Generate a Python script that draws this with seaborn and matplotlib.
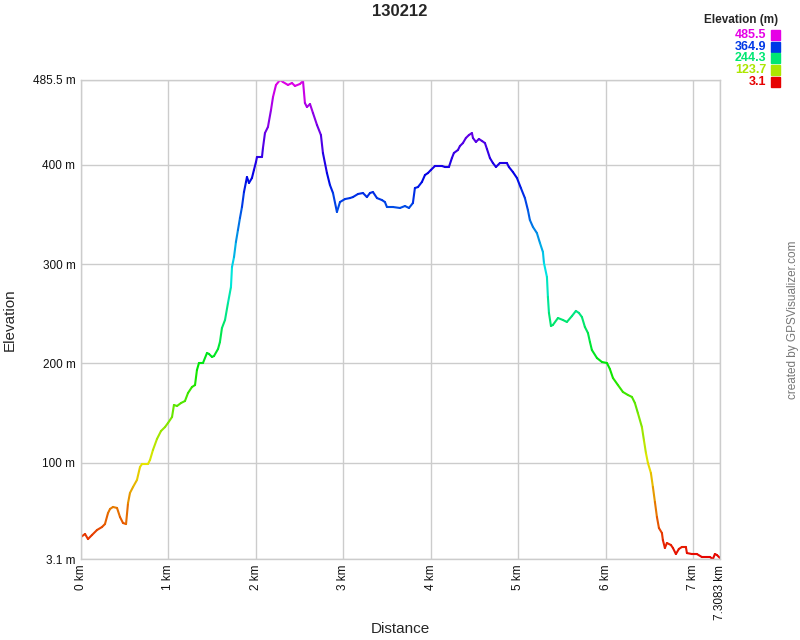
import colorsys
import matplotlib
matplotlib.use("Agg")
import matplotlib.pyplot as plt
import seaborn as sns
import pandas as pd

TITLE = "130212"
TOTAL_KM = 7.3083
ELE_MIN = 3.1
ELE_MAX = 485.5

dist_km = [
    0.000, 0.046, 0.080, 0.126, 0.183, 0.240, 0.274, 0.309, 0.332, 0.366,
    0.412, 0.446, 0.480, 0.515, 0.538, 0.560, 0.595, 0.640, 0.675, 0.698,
    0.766, 0.789, 0.823, 0.869, 0.915, 0.961, 0.995, 1.041, 1.063, 1.098,
    1.144, 1.189, 1.224, 1.269, 1.304, 1.326, 1.349, 1.395, 1.441, 1.464,
    1.498, 1.521, 1.567, 1.589, 1.612, 1.647, 1.681, 1.715, 1.727, 1.750,
    1.772, 1.795, 1.818, 1.841, 1.864, 1.887, 1.898, 1.921, 1.955, 1.978,
    2.001, 2.013, 2.070, 2.081, 2.104, 2.138, 2.173, 2.196, 2.230, 2.276,
    2.310, 2.367, 2.413, 2.447, 2.504, 2.539, 2.561, 2.584, 2.619, 2.653,
    2.699, 2.744, 2.767, 2.813, 2.847, 2.882, 2.927, 2.962, 3.019, 3.076,
    3.110, 3.168, 3.225, 3.270, 3.305, 3.339, 3.385, 3.442, 3.476, 3.499,
    3.568, 3.648, 3.705, 3.751, 3.796, 3.819, 3.854, 3.899, 3.934, 3.968,
    4.002, 4.048, 4.128, 4.162, 4.208, 4.242, 4.265, 4.311, 4.334, 4.368,
    4.402, 4.437, 4.471, 4.483, 4.517, 4.551, 4.586, 4.620, 4.643, 4.677,
    4.711, 4.746, 4.791, 4.871, 4.894, 4.940, 4.986, 5.031, 5.077, 5.111,
    5.134, 5.169, 5.214, 5.249, 5.283, 5.295, 5.329, 5.340, 5.352, 5.375,
    5.397, 5.455, 5.512, 5.557, 5.615, 5.660, 5.695, 5.729, 5.763, 5.798,
    5.821, 5.843, 5.901, 5.958, 6.015, 6.049, 6.084, 6.141, 6.198, 6.255,
    6.301, 6.335, 6.369, 6.415, 6.438, 6.461, 6.484, 6.518, 6.541, 6.564,
    6.587, 6.610, 6.644, 6.655, 6.678, 6.701, 6.747, 6.770, 6.804, 6.838,
    6.872, 6.918, 6.930, 6.987, 7.044, 7.101, 7.158, 7.193, 7.227, 7.250,
    7.273, 7.3083,
]

elev_m = [
    25.3, 28.3, 23.2, 27.3, 32.3, 35.3, 38.3, 49.4, 53.5, 55.5,
    54.5, 45.4, 39.4, 38.3, 59.5, 69.6, 75.6, 82.7, 95.8, 98.8,
    98.8, 102.8, 112.9, 124.0, 132.0, 136.0, 140.1, 146.1, 158.2, 157.2,
    160.2, 162.2, 170.3, 176.3, 178.3, 193.4, 200.5, 200.5, 210.6, 209.6,
    206.6, 207.5, 214.6, 221.6, 235.7, 243.8, 260.9, 277.0, 297.2, 307.2,
    322.4, 334.4, 346.5, 357.6, 372.7, 382.8, 387.8, 381.8, 386.8, 394.9,
    402.9, 408.0, 408.0, 417.0, 432.1, 438.2, 455.3, 468.4, 480.5, 485.5,
    483.5, 480.5, 482.5, 479.5, 481.5, 484.5, 462.3, 458.3, 461.3, 452.3,
    440.2, 430.1, 412.0, 391.8, 379.8, 371.7, 352.6, 362.6, 365.6, 366.6,
    367.6, 370.7, 371.7, 367.6, 371.7, 372.7, 366.6, 364.6, 362.6, 357.6,
    357.6, 356.6, 358.6, 356.6, 361.6, 376.7, 377.7, 382.8, 389.8, 391.8,
    394.9, 398.9, 398.9, 397.9, 397.9, 406.9, 412.0, 415.0, 419.0, 422.0,
    427.1, 430.1, 432.1, 427.1, 423.1, 426.1, 424.1, 422.0, 416.0, 406.9,
    401.9, 397.9, 401.9, 401.9, 397.9, 392.8, 386.8, 376.7, 366.6, 354.6,
    344.5, 337.5, 331.4, 321.4, 312.3, 301.2, 287.1, 267.0, 250.9, 237.8,
    238.8, 245.8, 243.8, 241.8, 247.8, 252.9, 250.9, 246.8, 236.8, 230.7,
    221.6, 213.6, 205.5, 201.5, 200.5, 194.4, 185.4, 178.3, 171.3, 168.3,
    166.3, 160.2, 150.1, 136.0, 122.9, 109.9, 99.8, 89.7, 75.6, 60.5,
    45.4, 34.3, 29.3, 22.2, 14.2, 19.2, 17.2, 14.2, 8.1, 13.2,
    15.2, 15.2, 9.1, 8.1, 8.1, 5.1, 5.1, 5.1, 3.1, 8.1,
    7.1, 4.1,
]

legend_vals = [485.5, 364.9, 244.3, 123.7, 3.1]
x_ticks = [0, 1, 2, 3, 4, 5, 6, 7, TOTAL_KM]
y_ticks = [ELE_MIN, 100, 200, 300, 400, ELE_MAX]


def ele_color(e):
    # rojo (min) -> magenta (max), como el arcoiris de GPSVisualizer
    h = 300.0 / 360.0 * (e - ELE_MIN) / (ELE_MAX - ELE_MIN)
    return colorsys.hsv_to_rgb(h, 1.0, 0.9)


def main():
    sns.set_theme(style="white")
    plt.rcParams["font.family"] = ["Liberation Sans", "DejaVu Sans"]

    # segmentos de dos puntos, cada uno con su color
    rows = []
    palette = {}
    for i in range(len(dist_km) - 1):
        palette[i] = ele_color((elev_m[i] + elev_m[i + 1]) / 2)
        rows.append((i, dist_km[i], elev_m[i]))
        rows.append((i, dist_km[i + 1], elev_m[i + 1]))
    df = pd.DataFrame(rows, columns=["seg", "dist", "elev"])

    fig = plt.figure(figsize=(8, 6.4), dpi=100)
    ax = fig.add_axes([81 / 800, 1 - 559 / 640, (720 - 81) / 800, (559 - 80) / 640])

    sns.lineplot(data=df, x="dist", y="elev", hue="seg", palette=palette,
                 estimator=None, sort=False, legend=False, linewidth=1.5, ax=ax)

    ax.set_xlim(0, TOTAL_KM)
    ax.set_ylim(ELE_MIN, ELE_MAX)
    ax.set_xticks(x_ticks)
    ax.set_xticklabels([f"{t:g} km" for t in x_ticks], rotation=90, fontsize=8.5)
    ax.set_yticks(y_ticks)
    ax.set_yticklabels([f"{t:g} m" for t in y_ticks], fontsize=8.5)
    ax.tick_params(length=0, pad=4, colors="#111111")
    ax.grid(True, color="#cccccc", linewidth=1)
    for s in ax.spines.values():
        s.set_color("#cccccc")
        s.set_linewidth(1)

    ax.set_xlabel("Distance", fontsize=11)
    ax.set_ylabel("Elevation", fontsize=11)
    ax.xaxis.set_label_coords(0.5, -0.132)
    ax.yaxis.set_label_coords(-0.1, 0.5)
    fig.text(0.5, 1 - 12 / 640, TITLE, ha="center", va="center",
             fontsize=12, fontweight="bold")

    # leyenda de colores
    fig.text(741 / 800, 1 - 20 / 640, "Elevation (m)", ha="center", va="center",
             fontsize=8.5, fontweight="bold")
    for i, v in enumerate(legend_vals):
        yc = 1 - (35 + i * 11.7) / 640
        c = ele_color(v)
        fig.text(766 / 800, yc, f"{v:.1f}", ha="right", va="center",
                 fontsize=9, fontweight="bold", color=c)
        fig.patches.append(plt.Rectangle((771 / 800, yc - 5 / 640), 9 / 800, 10 / 640,
                                         transform=fig.transFigure, color=c))

    fig.text(793 / 800, 1 - 320 / 640, "created by GPSVisualizer.com", rotation=90,
             ha="center", va="center", fontsize=8.5, color="#777777")

    fig.savefig("out.png", dpi=100)


if __name__ == "__main__":
    main()
